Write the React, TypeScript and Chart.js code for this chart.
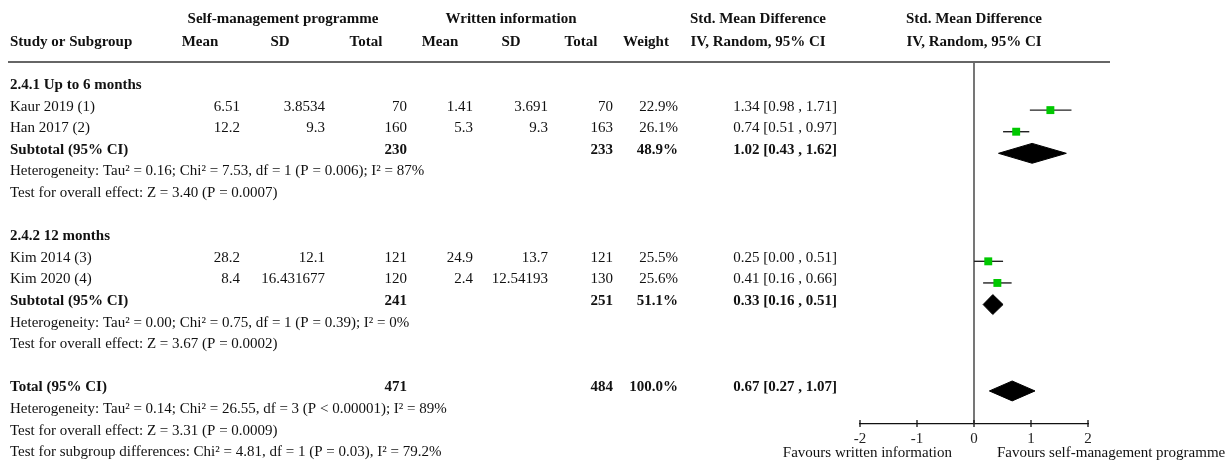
import React, { useEffect, useRef } from "react";
import { Chart, registerables } from "chart.js";

Chart.register(...registerables);

const FONT = '"Liberation Serif", "Times New Roman", serif';
const FS = 15;

// ---- Study data ----
const studyNames = ["Kaur 2019 (1)", "Han 2017 (2)", "Kim 2014 (3)", "Kim 2020 (4)"];
const studyGroup = [0, 0, 1, 1];
const smMean = ["6.51", "12.2", "28.2", "8.4"];
const smSD = ["3.8534", "9.3", "12.1", "16.431677"];
const smTotal = [70, 160, 121, 120];
const wiMean = ["1.41", "5.3", "24.9", "2.4"];
const wiSD = ["3.691", "9.3", "13.7", "12.54193"];
const wiTotal = [70, 163, 121, 130];
const studyWeight = [22.9, 26.1, 25.5, 25.6];
const studySmd = [1.34, 0.74, 0.25, 0.41];
const studyLo = [0.98, 0.51, 0.0, 0.16];
const studyHi = [1.71, 0.97, 0.51, 0.66];

// ---- Subgroup data ----
const groupNames = ["2.4.1 Up to 6 months", "2.4.2 12 months"];
const groupSmTotal = [230, 241];
const groupWiTotal = [233, 251];
const groupWeight = [48.9, 51.1];
const groupSmd = [1.02, 0.33];
const groupLo = [0.43, 0.16];
const groupHi = [1.62, 0.51];
const groupHet = [
  "Heterogeneity: Tau² = 0.16; Chi² = 7.53, df = 1 (P = 0.006); I² = 87%",
  "Heterogeneity: Tau² = 0.00; Chi² = 0.75, df = 1 (P = 0.39); I² = 0%",
];
const groupEffect = [
  "Test for overall effect: Z = 3.40 (P = 0.0007)",
  "Test for overall effect: Z = 3.67 (P = 0.0002)",
];

// ---- Overall ----
const totalSm = 471;
const totalWi = 484;
const totalWeight = 100.0;
const totalSmd = 0.67;
const totalLo = 0.27;
const totalHi = 1.07;
const totalNotes = [
  "Heterogeneity: Tau² = 0.14; Chi² = 26.55, df = 3 (P < 0.00001); I² = 89%",
  "Test for overall effect: Z = 3.31 (P = 0.0009)",
  "Test for subgroup differences: Chi² = 4.81, df = 1 (P = 0.03), I² = 79.2%",
];

// ---- Axis ----
const xTicks = [-2, -1, 0, 1, 2];
const favourLeft = "Favours written information";
const favourRight = "Favours self-management programme";

// ---- Header ----
const headerTop = [
  { text: "Self-management programme", x: 283 },
  { text: "Written information", x: 511 },
  { text: "Std. Mean Difference", x: 758 },
  { text: "Std. Mean Difference", x: 974 },
];
const headerSub = [
  { text: "Study or Subgroup", x: 10, align: "left" },
  { text: "Mean", x: 200, align: "center" },
  { text: "SD", x: 280, align: "center" },
  { text: "Total", x: 366, align: "center" },
  { text: "Mean", x: 440, align: "center" },
  { text: "SD", x: 511, align: "center" },
  { text: "Total", x: 581, align: "center" },
  { text: "Weight", x: 646, align: "center" },
  { text: "IV, Random, 95% CI", x: 758, align: "center" },
  { text: "IV, Random, 95% CI", x: 974, align: "center" },
];

// column right edges
const COL = { name: 10, smMean: 240, smSD: 325, smTot: 407, wiMean: 473, wiSD: 548, wiTot: 613, w: 678, ci: 837 };

const fmtCI = (e: number, l: number, h: number) =>
  `${e.toFixed(2)} [${l.toFixed(2)} , ${h.toFixed(2)}]`;

type TextItem = { text: string; x: number; row: number; bold?: boolean; align: CanvasTextAlign };

function buildLayout() {
  const texts: TextItem[] = [];
  const studyRows: number[] = [];
  const groupRows: number[] = [];
  let r = 0;
  groupNames.forEach((gName, g) => {
    texts.push({ text: gName, x: COL.name, row: r, bold: true, align: "left" });
    r++;
    studyNames.forEach((sName, i) => {
      if (studyGroup[i] !== g) return;
      studyRows[i] = r;
      texts.push({ text: sName, x: COL.name, row: r, align: "left" });
      texts.push({ text: smMean[i], x: COL.smMean, row: r, align: "right" });
      texts.push({ text: smSD[i], x: COL.smSD, row: r, align: "right" });
      texts.push({ text: String(smTotal[i]), x: COL.smTot, row: r, align: "right" });
      texts.push({ text: wiMean[i], x: COL.wiMean, row: r, align: "right" });
      texts.push({ text: wiSD[i], x: COL.wiSD, row: r, align: "right" });
      texts.push({ text: String(wiTotal[i]), x: COL.wiTot, row: r, align: "right" });
      texts.push({ text: studyWeight[i].toFixed(1) + "%", x: COL.w, row: r, align: "right" });
      texts.push({ text: fmtCI(studySmd[i], studyLo[i], studyHi[i]), x: COL.ci, row: r, align: "right" });
      r++;
    });
    groupRows[g] = r;
    texts.push({ text: "Subtotal (95% CI)", x: COL.name, row: r, bold: true, align: "left" });
    texts.push({ text: String(groupSmTotal[g]), x: COL.smTot, row: r, bold: true, align: "right" });
    texts.push({ text: String(groupWiTotal[g]), x: COL.wiTot, row: r, bold: true, align: "right" });
    texts.push({ text: groupWeight[g].toFixed(1) + "%", x: COL.w, row: r, bold: true, align: "right" });
    texts.push({ text: fmtCI(groupSmd[g], groupLo[g], groupHi[g]), x: COL.ci, row: r, bold: true, align: "right" });
    r++;
    texts.push({ text: groupHet[g], x: COL.name, row: r, align: "left" });
    r++;
    texts.push({ text: groupEffect[g], x: COL.name, row: r, align: "left" });
    r += 2;
  });
  const totalRow = r;
  texts.push({ text: "Total (95% CI)", x: COL.name, row: r, bold: true, align: "left" });
  texts.push({ text: String(totalSm), x: COL.smTot, row: r, bold: true, align: "right" });
  texts.push({ text: String(totalWi), x: COL.wiTot, row: r, bold: true, align: "right" });
  texts.push({ text: totalWeight.toFixed(1) + "%", x: COL.w, row: r, bold: true, align: "right" });
  texts.push({ text: fmtCI(totalSmd, totalLo, totalHi), x: COL.ci, row: r, bold: true, align: "right" });
  r++;
  totalNotes.forEach((n) => {
    texts.push({ text: n, x: COL.name, row: r, align: "left" });
    r++;
  });
  return { texts, studyRows, groupRows, totalRow };
}

const Y_MIN = -1.227;
const Y_MAX = 15.53;
const DIAMOND_H = 0.46;

export default function App() {
  const ref = useRef<HTMLCanvasElement | null>(null);

  useEffect(() => {
    if (!ref.current) return;
    const { texts, studyRows, groupRows, totalRow } = buildLayout();

    const diamond = (e: number, l: number, h: number, r: number) => [
      { x: l, y: r },
      { x: e, y: r - DIAMOND_H },
      { x: h, y: r },
      { x: e, y: r + DIAMOND_H },
      { x: l, y: r },
    ];

    const datasets: any[] = [];
    datasets.push({
      type: "scatter",
      data: studySmd.map((v, i) => ({ x: v, y: studyRows[i] })),
      pointStyle: "rect",
      pointRadius: 5.6,
      backgroundColor: "#00c800",
      borderColor: "#00c800",
      borderWidth: 0,
      order: 0,
    });
    studySmd.forEach((_, i) => {
      datasets.push({
        type: "line",
        data: [
          { x: studyLo[i], y: studyRows[i] },
          { x: studyHi[i], y: studyRows[i] },
        ],
        borderColor: "#222",
        borderWidth: 1.4,
        pointRadius: 0,
        fill: false,
        order: 1,
      });
    });
    groupSmd.forEach((e, g) => {
      datasets.push({
        type: "line",
        data: diamond(e, groupLo[g], groupHi[g], groupRows[g]),
        borderColor: "#000",
        backgroundColor: "#000",
        borderWidth: 1,
        pointRadius: 0,
        fill: "shape",
        tension: 0,
        order: 1,
      });
    });
    datasets.push({
      type: "line",
      data: diamond(totalSmd, totalLo, totalHi, totalRow),
      borderColor: "#000",
      backgroundColor: "#000",
      borderWidth: 1,
      pointRadius: 0,
      fill: "shape",
      tension: 0,
      order: 1,
    });
    datasets.push({
      type: "line",
      data: [
        { x: 0, y: Y_MIN },
        { x: 0, y: Y_MAX },
      ],
      borderColor: "#555",
      borderWidth: 1.6,
      pointRadius: 0,
      fill: false,
      order: 2,
    });

    const tablePlugin = {
      id: "forestTable",
      afterDraw(chart: any) {
        const { ctx, chartArea, scales } = chart;
        const ys = scales.y;
        const xs = scales.x;
        ctx.save();
        // header rule
        ctx.strokeStyle = "#666";
        ctx.lineWidth = 2;
        ctx.beginPath();
        ctx.moveTo(8, chartArea.top);
        ctx.lineTo(1110, chartArea.top);
        ctx.stroke();

        ctx.fillStyle = "#111";
        ctx.textBaseline = "middle";
        ctx.font = `bold ${FS}px ${FONT}`;
        ctx.textAlign = "center";
        headerTop.forEach((h) => ctx.fillText(h.text, h.x, chartArea.top - 43));
        headerSub.forEach((h) => {
          ctx.textAlign = h.align as CanvasTextAlign;
          ctx.fillText(h.text, h.x, chartArea.top - 20);
        });

        texts.forEach((t) => {
          ctx.font = `${t.bold ? "bold " : ""}${FS}px ${FONT}`;
          ctx.textAlign = t.align;
          ctx.fillText(t.text, t.x, ys.getPixelForValue(t.row) - 3.5);
        });

        // axis tick marks
        ctx.strokeStyle = "#111";
        ctx.lineWidth = 1.3;
        xs.ticks.forEach((tk: any) => {
          const px = xs.getPixelForValue(tk.value);
          ctx.beginPath();
          ctx.moveTo(px, chartArea.bottom - 4);
          ctx.lineTo(px, chartArea.bottom + 3);
          ctx.stroke();
        });

        // favours labels
        ctx.font = `${FS}px ${FONT}`;
        const zx = xs.getPixelForValue(0);
        ctx.textAlign = "right";
        ctx.fillText(favourLeft, zx - 22, chartArea.bottom + 29);
        ctx.textAlign = "left";
        ctx.fillText(favourRight, zx + 23, chartArea.bottom + 29);
        ctx.restore();
      },
    };

    const chart = new Chart(ref.current, {
      type: "scatter",
      data: { datasets },
      options: {
        animation: false,
        responsive: false,
        devicePixelRatio: 1,
        layout: { padding: { left: 860, right: 144, top: 62, bottom: 19 } },
        plugins: { legend: { display: false }, tooltip: { enabled: false } },
        scales: {
          x: {
            type: "linear",
            min: -2,
            max: 2,
            afterBuildTicks: (s: any) => {
              s.ticks = xTicks.map((v) => ({ value: v }));
            },
            afterFit: (s: any) => {
              s.height = 22;
            },
            grid: { display: false, drawTicks: false },
            border: { display: true, color: "#111", width: 1.3 },
            ticks: {
              padding: 6,
              color: "#222",
              font: { family: FONT, size: FS },
              maxRotation: 0,
              autoSkip: false,
            },
          },
          y: {
            type: "linear",
            display: false,
            min: Y_MIN,
            max: Y_MAX,
            reverse: true,
          },
        },
      } as any,
      plugins: [tablePlugin],
    });
    return () => chart.destroy();
  }, []);

  return (
    <div style={{ position: "absolute", left: 0, top: 0, width: 1232, height: 465, background: "#fff" }}>
      <canvas ref={ref} width={1232} height={465} style={{ width: 1232, height: 465 }} />
    </div>
  );
}
